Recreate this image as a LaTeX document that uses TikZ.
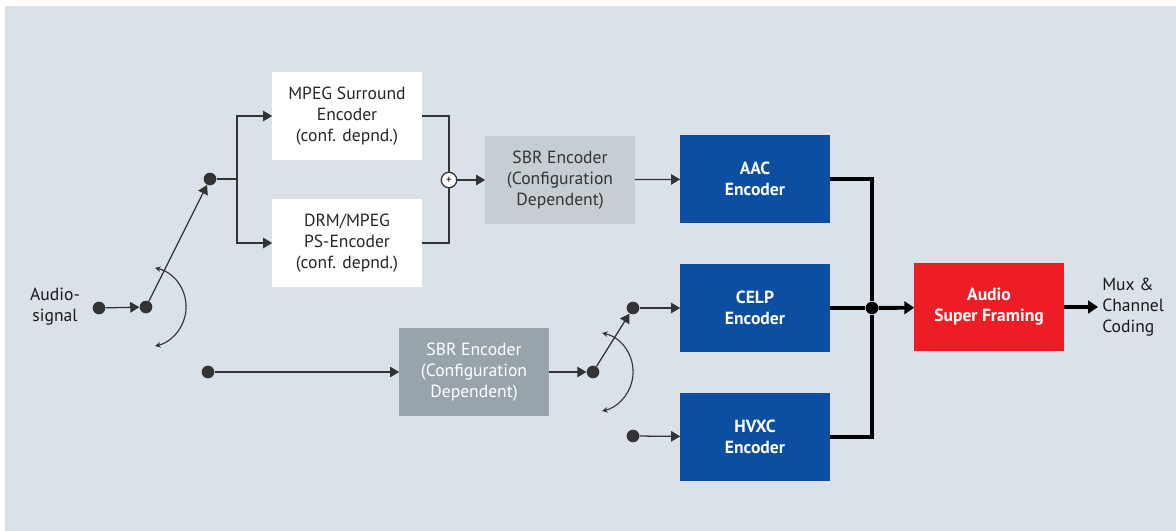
\documentclass[tikz,border=0pt]{standalone}
\usepackage{fontspec}
\setmainfont{PT Sans}
\usetikzlibrary{arrows.meta}
\definecolor{bgcol}{HTML}{DAE1E8}
\definecolor{linegray}{HTML}{333333}
\definecolor{sbrlight}{HTML}{C6CED4}
\definecolor{sbrdark}{HTML}{97A4AB}
\definecolor{codecblue}{HTML}{0B4EA2}
\definecolor{framered}{HTML}{EE1D25}
\tikzstyle{block}=[rectangle, inner sep=0pt, minimum width=106pt, minimum height=62pt, align=center, font=\fontsize{12.5}{15}\selectfont]
\tikzstyle{whitebox}=[block, fill=white, text=black!85]
\tikzstyle{sbrbox}=[block, fill=sbrlight, text=black!80]
\tikzstyle{sbrgray}=[block, fill=sbrdark, text=white]
\tikzstyle{codec}=[block, fill=codecblue, text=white, font=\fontsize{12.5}{15}\selectfont\bfseries]
\tikzstyle{framer}=[block, fill=framered, text=white, font=\fontsize{12.5}{15}\selectfont\bfseries]
\tikzstyle{blob}=[circle, fill=linegray, inner sep=0pt, minimum size=9pt]
\tikzstyle{sidetext}=[inner sep=0pt, text=black!90, font=\fontsize{12.5}{15}\selectfont]
\tikzstyle{wire}=[draw=linegray, line width=0.9pt]
\tikzstyle{arrowed}=[wire, -{Triangle[length=6.5pt,width=7.5pt]}]
\tikzstyle{bus}=[draw=black, line width=2.8pt]
\tikzstyle{busarrow}=[bus, -{Triangle[length=7pt,width=9pt]}]
\tikzstyle{swing}=[wire, line width=0.8pt, {Stealth[length=4pt,width=4pt]}-{Stealth[length=4pt,width=4pt]}]
\newcommand{\blob}{\node[blob]}

\begin{document}
\begin{tikzpicture}[x=0.025cm, y=0.025cm
    ,every edge/.style={arrowed}
]
\fill[white] (0,0) rectangle (1176,-531);
\fill[bgcol] (5,-6) rectangle (1176,-531);
\useasboundingbox (0,0) rectangle (1176,-531);

% encoder blocks
\node[whitebox] (mpeg) at (347,-116) {MPEG Surround\\Encoder\\(conf. depnd.)};
\node[whitebox] (drm) at (347,-243) {DRM/MPEG\\PS-Encoder\\(conf. depnd.)};
\node[sbrbox] (sbrA) at (560,-180) {SBR Encoder\\(Configuration\\Dependent)};
\node[sbrgray] (sbrB) at (474,-372) {SBR Encoder\\(Configuration\\Dependent)};
\node[codec] (aac) at (755,-179) {AAC\\Encoder};
\node[codec] (celp) at (755,-308) {CELP\\Encoder};
\node[codec] (hvxc) at (755,-437) {HVXC\\Encoder};
\node[framer] (asf) at (989,-307) {Audio\\Super Framing};

% switch points
\blob (in) at (99,-308) {};
\blob (swA) at (146,-307) {};
\blob (topA) at (210,-179) {};
\blob (inB) at (208,-372) {};
\blob (swB) at (593,-372) {};
\blob (celpin) at (633,-308) {};
\blob (hvxcin) at (633,-436) {};
\node[circle, wire, fill=white, inner sep=0pt, minimum size=11pt, font=\footnotesize] (plus) at (449,-180) {+};
\node[circle, fill=black, inner sep=0pt, minimum size=9pt] (junc) at (872,-308) {};
\coordinate (split) at (237,-179);
\coordinate (out) at (1098,-307);

\node[sidetext, align=center] (audio) at (55,-307) {Audio-\\signal};
\node[sidetext, align=left, anchor=west] (mux) at (1102,-307) {Mux \&\\Channel\\Coding};

\path
(in) edge (swA)
(swA) edge (topA)
(plus) edge (sbrA)
(sbrA) edge (aac)
(inB) edge (sbrB)
(sbrB) edge (swB)
(swB) edge (celpin)
(celpin) edge (celp)
(hvxcin) edge (hvxc)
;
\draw[wire] (topA) -- (split);
\draw[arrowed] (split) |- (mpeg);
\draw[arrowed] (split) |- (drm);
\draw[wire] (mpeg) -| (plus);
\draw[wire] (drm) -| (plus);

\draw[swing] ([shift={(77:28.5pt)}]swA.center) arc[start angle=77, end angle=-77, radius=28.5pt];
\draw[swing] ([shift={(77:28.5pt)}]swB.center) arc[start angle=77, end angle=-77, radius=28.5pt];

% output bus
\draw[bus, line join=miter] (aac) -| (junc) |- (hvxc);
\draw[bus] (celp) -- (junc);
\draw[busarrow] (junc) -- (asf);
\draw[busarrow] (asf) -- (out);
\end{tikzpicture}
\end{document}
